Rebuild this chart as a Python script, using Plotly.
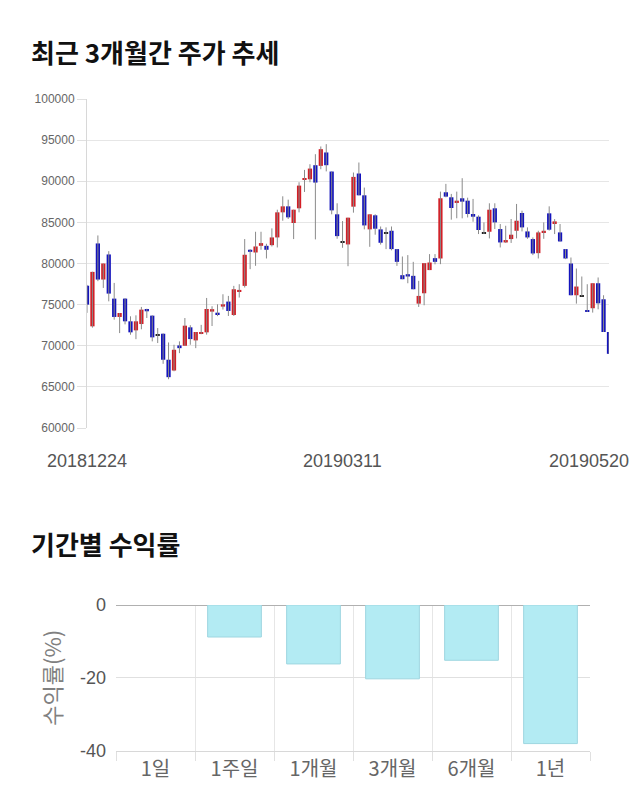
import plotly.graph_objects as go

# ---------------- data ----------------
opens = [77300, 72360, 82440, 78050, 81100, 75730, 73500, 75730, 72970, 71870,
         72640, 74470, 73660, 71350, 71460, 68300, 66990, 70040, 70000, 72240,
         70650, 71470, 71630, 74150, 74020, 74760, 75370, 73740, 76550, 77280,
         81670, 81340, 82150, 82150, 82230, 83170, 86220, 86950, 84920, 86710,
         90160, 90240, 91950, 91870, 93500, 91180, 85980, 82620, 82320, 86910,
         90940, 88290, 84150, 85860, 84150, 83700, 83980, 81750, 78580, 78700,
         78500, 75120, 76380, 79200, 80650, 80610, 88660, 88050, 87360, 87930,
         87640, 86020, 85690, 83700, 83860, 86710, 84190, 82560, 82970, 83980,
         86140, 83900, 82970, 81260, 83780, 86100, 84800, 83780, 81750, 80000,
         76140, 76060, 74310, 74560, 77600, 75650, 71670]
highs = [77400, 79000, 83410, 80000, 81500, 77640, 73980, 75800, 73580, 73700,
         74720, 74500, 73700, 72150, 71500, 70400, 70120, 70530, 73370, 72500,
         71670, 72540, 75810, 74800, 75040, 76260, 76060, 77280, 77480, 82970,
         81750, 83860, 83860, 82400, 84270, 86540, 88170, 87760, 86540, 89880,
         91380, 92070, 93290, 94230, 94510, 91180, 87320, 85160, 85570, 91060,
         92280, 89230, 85980, 85980, 84500, 84390, 84500, 81750, 80850, 81020,
         80200, 77890, 80040, 81140, 81140, 88740, 89680, 88460, 88740, 90370,
         88000, 87850, 85850, 85000, 87320, 87320, 84800, 84590, 85410, 87240,
         86420, 84390, 83170, 83980, 85000, 86950, 85400, 84800, 81750, 80730,
         79390, 78420, 77480, 77600, 78300, 76140, 71670]
lows = [74000, 72200, 77850, 77030, 75400, 73170, 71540, 72600, 71340, 70800,
        72000, 73370, 70530, 70330, 67800, 65930, 66900, 69100, 70000, 70120,
        69710, 71400, 71350, 72400, 73600, 74400, 73620, 73620, 75860, 77080,
        79310, 79720, 81670, 80610, 82070, 81950, 85200, 85410, 82970, 86220,
        88700, 89880, 82930, 91460, 91200, 85980, 83010, 81910, 79670, 86180,
        88290, 84150, 82030, 83500, 82300, 81750, 81600, 79710, 78090, 77600,
        76870, 74720, 74920, 79200, 79900, 79920, 88050, 85330, 85500, 85490,
        85600, 85080, 83580, 83580, 83050, 84190, 81950, 82500, 82500, 83050,
        83900, 83000, 81020, 80610, 83000, 84000, 83580, 82680, 80530, 76140,
        75120, 76000, 74110, 74030, 74430, 71670, 69020]
closes = [75000, 78980, 78050, 80000, 76340, 73500, 73980, 72970, 71630, 72970,
          74390, 74190, 71020, 71350, 68300, 66180, 69510, 69710, 72440, 70810,
          71670, 71670, 74470, 74450, 73740, 75040, 74230, 76870, 76790, 81060,
          81420, 82070, 82480, 81670, 83170, 86220, 86950, 85610, 86540, 89470,
          90360, 91540, 89840, 93900, 91950, 86460, 83330, 82620, 85570, 90530,
          88290, 84630, 85980, 84230, 82520, 83700, 81750, 80200, 78090, 78420,
          76870, 76060, 80040, 80120, 80200, 87930, 88130, 86750, 87640, 87520,
          86020, 85690, 84070, 83700, 86540, 85000, 82560, 82850, 83500, 85200,
          84390, 83170, 81220, 83780, 83980, 84110, 85120, 82680, 80610, 76140,
          77200, 76060, 74110, 77600, 75160, 71670, 69020]
date_ticks = ["20181224", "20190311", "20190520"]
date_tick_idx = [0, 47, 96]

periods = ["1일", "1주일", "1개월", "3개월", "6개월", "1년"]
returns = [0.0, -8.8, -16.2, -20.3, -15.2, -38.1]
return_ticks = [0, -20, -40]

# ---------------- figure ----------------
W, H = 640, 810
RED, BLUE, DOJI = "#d31e26", "#1414bd", "#222222"
idx = list(range(len(opens)))

wx, wy = [], []
for i in idx:
    wx += [i, i, None]
    wy += [lows[i], highs[i], None]

bases, heights, colors = [], [], []
for o, c in zip(opens, closes):
    lo, hi = min(o, c), max(o, c)
    h = max(hi - lo, 160)
    bases.append(lo if hi - lo >= 160 else lo - 80)
    heights.append(h)
    colors.append(RED if c > o else (BLUE if c < o else DOJI))

fig = go.Figure()
fig.add_trace(go.Scatter(x=wx, y=wy, mode="lines", line=dict(color="#8a8a8a", width=1),
                         hoverinfo="skip", showlegend=False, xaxis="x", yaxis="y"))
fig.add_trace(go.Bar(x=idx, y=heights, base=bases, width=0.78,
                     marker=dict(color=colors, line=dict(width=0)),
                     showlegend=False, xaxis="x", yaxis="y"))

fig.add_trace(go.Bar(x=periods, y=returns, width=0.68,
                     marker=dict(color="#b3ebf3",
                                 line=dict(color="#9ed6e0",
                                           width=[0 if v == 0 else 1 for v in returns])),
                     showlegend=False, xaxis="x2", yaxis="y2"))

def px_x(p):
    return p / W

def px_y(p):
    return 1 - p / H

fig.update_layout(
    width=W, height=H, margin=dict(l=0, r=0, t=0, b=0, autoexpand=False),
    paper_bgcolor="white", plot_bgcolor="white",
    font=dict(family="Noto Sans CJK KR, sans-serif"),
    xaxis=dict(domain=[px_x(87), px_x(609)], range=[0, 96], showgrid=False,
               showticklabels=False, zeroline=False, fixedrange=True),
    yaxis=dict(domain=[px_y(428), px_y(99)], range=[60000, 100000], dtick=5000,
               showgrid=True, gridcolor="#e6e6e6", gridwidth=1, zeroline=False,
               showline=True, linecolor="#d8d8d8", linewidth=1,
               ticks="outside", ticklen=9, tickcolor="#e0e0e0",
               tickformat="d",
               tickfont=dict(family="Liberation Sans, Arial", size=12, color="#666666")),
    xaxis2=dict(domain=[px_x(116), px_x(590)], type="category", tickson="boundaries",
                showgrid=True, gridcolor="#e6e6e6", ticks="outside", ticklen=9,
                tickcolor="#e0e0e0", showline=True, linecolor="#d8d8d8",
                tickfont=dict(family="Noto Sans CJK KR", size=20, color="#666666"),
                anchor="y2"),
    yaxis2=dict(domain=[px_y(750.5), px_y(605)], range=[-40, 0],
                tickvals=return_ticks, ticktext=[str(v) for v in return_ticks],
                showgrid=True, gridcolor="#e0e0e0", zeroline=True, zerolinecolor="#b0b0b0",
                zerolinewidth=1, ticks="", ticklabelstandoff=9,
                tickfont=dict(family="Liberation Sans, Arial", size=18, color="#555555"),
                title=dict(text="수익률(%)", standoff=12,
                           font=dict(family="Noto Sans CJK KR", size=22, color="#808080")),
                anchor="x2"),
)

ann = [
    dict(text="<b>최근 3개월간 주가 추세</b>", x=px_x(29), y=px_y(51), xanchor="left",
         yanchor="middle", font=dict(size=26, color="#111111")),
    dict(text="<b>기간별 수익률</b>", x=px_x(29), y=px_y(543), xanchor="left",
         yanchor="middle", font=dict(size=26, color="#111111")),
]
for a in ann:
    a.update(xref="paper", yref="paper", showarrow=False)
for k, (t, i) in enumerate(zip(date_ticks, date_tick_idx)):
    last = k == len(date_ticks) - 1
    ann.append(dict(text=t, x=i, xref="x", y=px_y(461), yref="paper",
                    xanchor="right" if last else "center", xshift=22 if last else 0,
                    yanchor="middle", showarrow=False,
                    font=dict(family="Liberation Sans, Arial", size=18, color="#555555")))
fig.update_layout(annotations=ann)

fig.write_html("out.html",
               post_script="document.body.style.margin='0';document.body.style.overflow='hidden';")
